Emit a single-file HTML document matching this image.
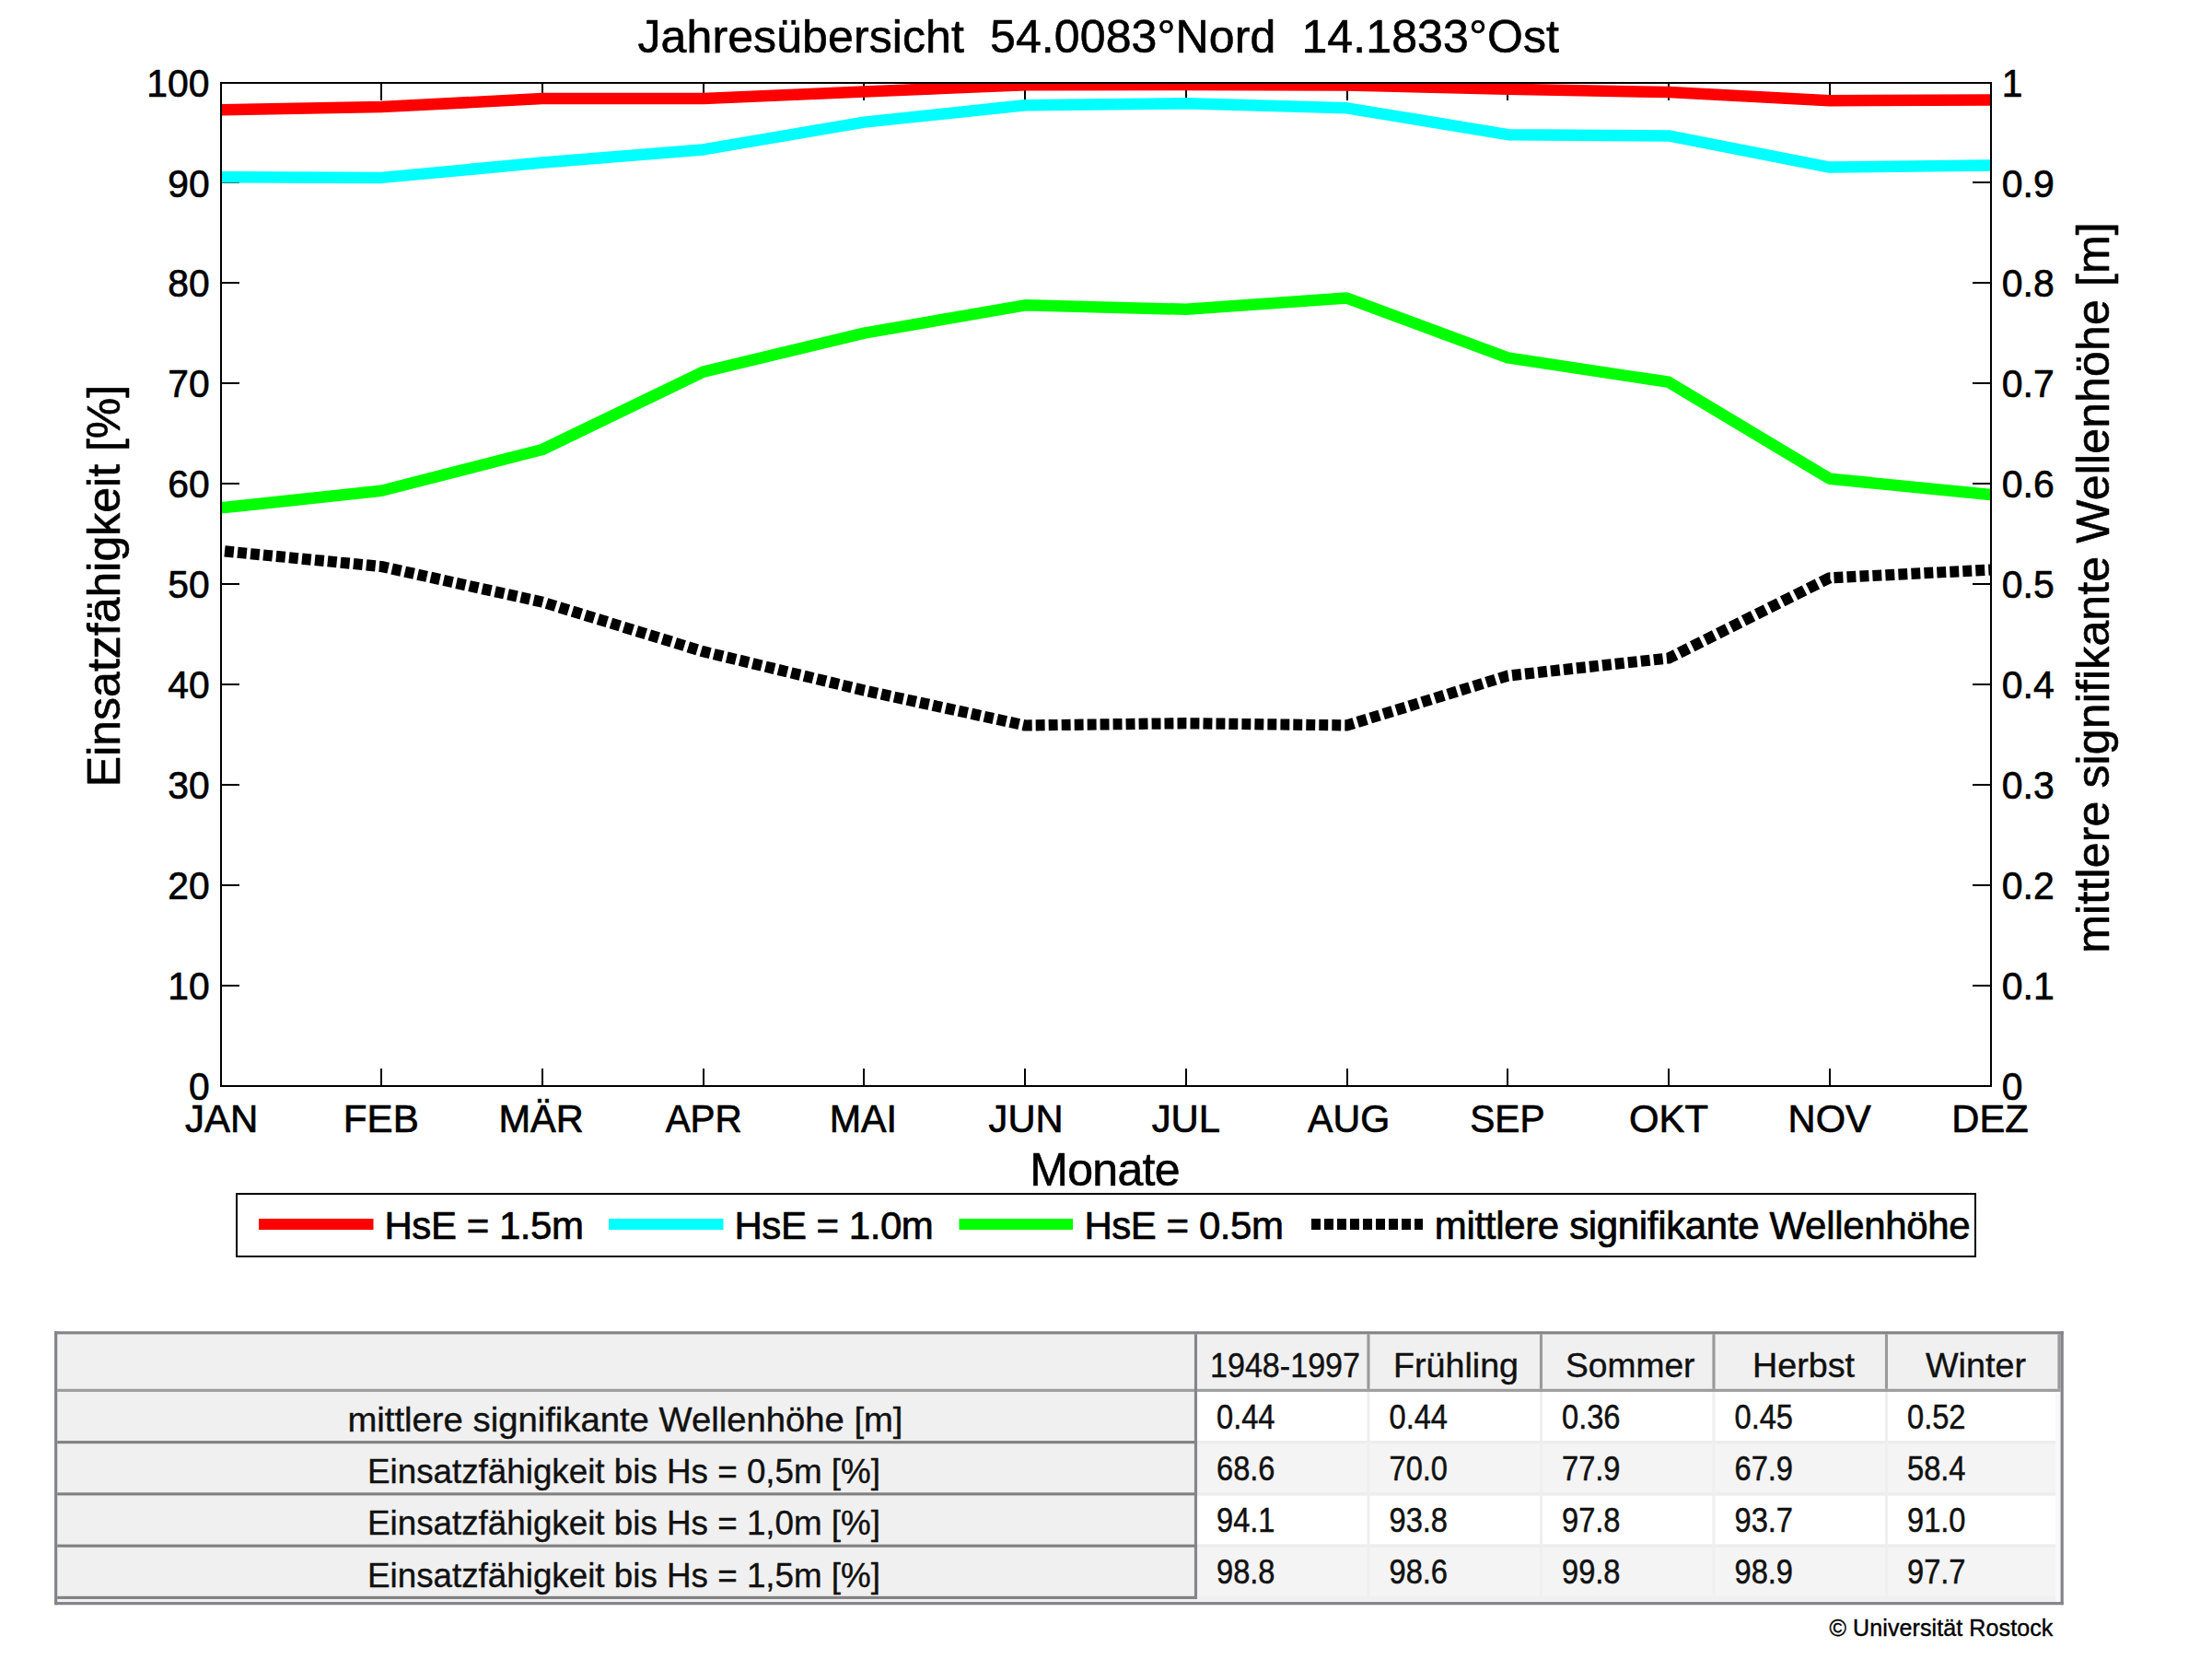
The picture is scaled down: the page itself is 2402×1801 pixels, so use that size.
<!DOCTYPE html>
<html lang="de"><head><meta charset="utf-8"><title>Jahresübersicht 54.0083°Nord 14.1833°Ost</title>
<style>
html,body{margin:0;padding:0;background:#fff;}
body{width:2402px;height:1801px;overflow:hidden;}
svg{display:block;font-family:"Liberation Sans",Arial,sans-serif;fill:#000;}
.t10{font-size:42px;}.tnum{font-size:42.8px;}.tcap{font-size:43.4px;}.t12{font-size:50px;}
.t10,.tnum,.tcap{stroke:#000;stroke-width:0.7px;stroke-linejoin:round;}.t12{stroke:#000;stroke-width:0.6px;stroke-linejoin:round;}
.ax{stroke:#000;stroke-width:2;fill:none;shape-rendering:crispEdges;}
.ln{fill:none;stroke-width:12.5;stroke-linejoin:round;stroke-linecap:butt;}
</style></head><body>
<svg width="2402" height="1801" viewBox="0 0 2402 1801">
<rect x="0" y="0" width="2402" height="1801" fill="#fff"/>
<defs><clipPath id="axclip"><rect x="240" y="90" width="1922" height="1089"/></clipPath></defs>
<!-- title -->
<text class="t12" x="692.5" y="57" textLength="1000.5" xml:space="preserve" style="white-space:pre">Jahresübersicht  54.0083°Nord  14.1833°Ost</text>
<!-- ticks -->
<g class="ax">
<line x1="414" y1="1179" x2="414" y2="1160"/><line x1="414" y1="90" x2="414" y2="109"/>
<line x1="589" y1="1179" x2="589" y2="1160"/><line x1="589" y1="90" x2="589" y2="109"/>
<line x1="764" y1="1179" x2="764" y2="1160"/><line x1="764" y1="90" x2="764" y2="109"/>
<line x1="938" y1="1179" x2="938" y2="1160"/><line x1="938" y1="90" x2="938" y2="109"/>
<line x1="1113" y1="1179" x2="1113" y2="1160"/><line x1="1113" y1="90" x2="1113" y2="109"/>
<line x1="1288" y1="1179" x2="1288" y2="1160"/><line x1="1288" y1="90" x2="1288" y2="109"/>
<line x1="1463" y1="1179" x2="1463" y2="1160"/><line x1="1463" y1="90" x2="1463" y2="109"/>
<line x1="1637" y1="1179" x2="1637" y2="1160"/><line x1="1637" y1="90" x2="1637" y2="109"/>
<line x1="1812" y1="1179" x2="1812" y2="1160"/><line x1="1812" y1="90" x2="1812" y2="109"/>
<line x1="1987" y1="1179" x2="1987" y2="1160"/><line x1="1987" y1="90" x2="1987" y2="109"/>
<line x1="240" y1="198" x2="260" y2="198"/><line x1="2162" y1="198" x2="2142" y2="198"/>
<line x1="240" y1="307" x2="260" y2="307"/><line x1="2162" y1="307" x2="2142" y2="307"/>
<line x1="240" y1="416" x2="260" y2="416"/><line x1="2162" y1="416" x2="2142" y2="416"/>
<line x1="240" y1="525" x2="260" y2="525"/><line x1="2162" y1="525" x2="2142" y2="525"/>
<line x1="240" y1="634" x2="260" y2="634"/><line x1="2162" y1="634" x2="2142" y2="634"/>
<line x1="240" y1="743" x2="260" y2="743"/><line x1="2162" y1="743" x2="2142" y2="743"/>
<line x1="240" y1="852" x2="260" y2="852"/><line x1="2162" y1="852" x2="2142" y2="852"/>
<line x1="240" y1="961" x2="260" y2="961"/><line x1="2162" y1="961" x2="2142" y2="961"/>
<line x1="240" y1="1070" x2="260" y2="1070"/><line x1="2162" y1="1070" x2="2142" y2="1070"/>
</g>
<!-- data lines -->
<g clip-path="url(#axclip)">
<polyline class="ln" stroke="#00ff00" points="239.5,551.4 414.2,532.7 589.0,488.0 763.7,403.6 938.4,361.6 1113.1,331.3 1287.9,335.8 1462.6,323.6 1637.3,388.4 1812.0,414.8 1986.8,519.7 2161.5,537.0"/>
<polyline class="ln" stroke="#00ffff" points="239.5,192.3 414.2,192.9 589.0,176.5 763.7,162.4 938.4,132.6 1113.1,114.2 1287.9,112.3 1462.6,117.3 1637.3,146.2 1812.0,147.4 1986.8,181.6 2161.5,179.5"/>
<polyline class="ln" stroke="#ff0000" points="239.5,119.2 414.2,116.0 589.0,107.1 763.7,106.9 938.4,99.5 1113.1,92.3 1287.9,92.1 1462.6,92.5 1637.3,96.8 1812.0,100.0 1986.8,109.2 2161.5,108.6"/>
<path class="ln" stroke="#000" stroke-linejoin="miter" style="stroke-width:12.2" d="M244.0,598.4 L253.9,599.4 M258.0,599.8 L267.9,600.8 M272.0,601.2 L281.9,602.1 M285.9,602.5 L295.8,603.5 M299.9,603.9 L309.8,604.8 M313.9,605.2 L323.8,606.2 M327.9,606.6 L337.8,607.6 M341.9,608.0 L351.8,608.9 M355.8,609.3 L365.7,610.3 M369.8,610.7 L379.7,611.6 M383.8,612.0 L393.7,613.0 M397.8,613.4 L407.7,614.4 M411.8,614.8 L414.2,615.0 L421.7,616.6 M425.7,617.5 L435.6,619.7 M439.7,620.6 L449.6,622.8 M453.7,623.7 L463.6,625.9 M467.7,626.8 L477.6,629.0 M481.7,629.9 L491.6,632.1 M495.6,633.0 L505.5,635.2 M509.6,636.1 L519.5,638.3 M523.6,639.2 L533.5,641.3 M537.6,642.3 L547.5,644.4 M551.6,645.3 L561.5,647.5 M565.5,648.4 L575.4,650.6 M579.5,651.5 L589.0,653.6 L589.4,653.7 M593.5,655.0 L603.4,658.0 M607.5,659.3 L617.4,662.3 M621.5,663.6 L631.4,666.6 M635.4,667.9 L645.3,670.9 M649.4,672.2 L659.3,675.2 M663.4,676.5 L673.3,679.5 M677.4,680.8 L687.3,683.8 M691.4,685.1 L701.3,688.1 M705.3,689.4 L715.2,692.4 M719.3,693.7 L729.2,696.7 M733.3,698.0 L743.2,701.0 M747.3,702.3 L757.2,705.3 M761.3,706.6 L763.7,707.3 L771.2,709.1 M775.2,710.1 L785.1,712.5 M789.2,713.5 L799.1,715.9 M803.2,716.8 L813.1,719.2 M817.2,720.2 L827.1,722.6 M831.2,723.6 L841.1,726.0 M845.1,727.0 L855.0,729.4 M859.1,730.4 L869.0,732.7 M873.1,733.7 L883.0,736.1 M887.1,737.1 L897.0,739.5 M901.1,740.5 L911.0,742.9 M915.0,743.9 L924.9,746.2 M929.0,747.2 L938.4,749.5 L938.9,749.6 M943.0,750.5 L952.9,752.7 M957.0,753.5 L966.9,755.7 M971.0,756.6 L980.9,758.7 M984.9,759.6 L994.8,761.8 M998.9,762.7 L1008.8,764.8 M1012.9,765.7 L1022.8,767.9 M1026.9,768.7 L1036.8,770.9 M1040.9,771.8 L1050.8,773.9 M1054.8,774.8 L1064.7,777.0 M1068.8,777.9 L1078.7,780.0 M1082.8,780.9 L1092.7,783.1 M1096.8,783.9 L1106.7,786.1 M1110.8,787.0 L1113.1,787.5 L1120.7,787.4 M1124.7,787.3 L1134.6,787.2 M1138.7,787.2 L1148.6,787.0 M1152.7,787.0 L1162.6,786.8 M1166.7,786.8 L1176.6,786.7 M1180.7,786.6 L1190.6,786.5 M1194.6,786.4 L1204.5,786.3 M1208.6,786.2 L1218.5,786.1 M1222.6,786.1 L1232.5,785.9 M1236.6,785.9 L1246.5,785.7 M1250.6,785.7 L1260.5,785.6 M1264.5,785.5 L1274.4,785.4 M1278.5,785.3 L1287.9,785.2 L1288.4,785.2 M1292.5,785.3 L1302.4,785.4 M1306.5,785.4 L1316.4,785.6 M1320.5,785.6 L1330.4,785.7 M1334.4,785.8 L1344.3,785.9 M1348.4,786.0 L1358.3,786.1 M1362.4,786.1 L1372.3,786.3 M1376.4,786.3 L1386.3,786.4 M1390.4,786.5 L1400.3,786.6 M1404.3,786.7 L1414.2,786.8 M1418.3,786.8 L1428.2,787.0 M1432.3,787.0 L1442.2,787.1 M1446.3,787.2 L1456.2,787.3 M1460.3,787.4 L1462.6,787.4 L1470.2,785.1 M1474.2,783.8 L1484.1,780.8 M1488.2,779.5 L1498.1,776.5 M1502.2,775.2 L1512.1,772.2 M1516.2,770.9 L1526.1,767.9 M1530.2,766.6 L1540.1,763.5 M1544.1,762.3 L1554.0,759.2 M1558.1,758.0 L1568.0,754.9 M1572.1,753.7 L1582.0,750.6 M1586.1,749.4 L1596.0,746.3 M1600.1,745.1 L1610.0,742.0 M1614.0,740.8 L1623.9,737.7 M1628.0,736.5 L1637.3,733.6 L1637.9,733.5 M1642.0,733.1 L1651.9,732.0 M1656.0,731.6 L1665.9,730.5 M1670.0,730.0 L1679.9,728.9 M1683.9,728.5 L1693.8,727.4 M1697.9,727.0 L1707.8,725.9 M1711.9,725.4 L1721.8,724.4 M1725.9,723.9 L1735.8,722.8 M1739.9,722.4 L1749.8,721.3 M1753.8,720.9 L1763.7,719.8 M1767.8,719.3 L1777.7,718.3 M1781.8,717.8 L1791.7,716.7 M1795.8,716.3 L1805.7,715.2 M1809.8,714.7 L1812.0,714.5 L1819.7,710.7 M1823.7,708.7 L1833.6,703.7 M1837.7,701.7 L1847.6,696.7 M1851.7,694.7 L1861.6,689.8 M1865.7,687.7 L1875.6,682.8 M1879.7,680.8 L1889.6,675.8 M1893.6,673.8 L1903.5,668.8 M1907.6,666.8 L1917.5,661.9 M1921.6,659.8 L1931.5,654.9 M1935.6,652.8 L1945.5,647.9 M1949.6,645.9 L1959.5,640.9 M1963.5,638.9 L1973.4,634.0 M1977.5,631.9 L1986.8,627.3 L1987.4,627.3 M1991.5,627.1 L2001.4,626.6 M2005.5,626.4 L2015.4,625.9 M2019.5,625.7 L2029.4,625.2 M2033.4,625.0 L2043.3,624.5 M2047.4,624.3 L2057.3,623.8 M2061.4,623.6 L2071.3,623.1 M2075.4,622.9 L2085.3,622.4 M2089.4,622.2 L2099.3,621.7 M2103.3,621.5 L2113.2,621.0 M2117.3,620.8 L2127.2,620.3 M2131.3,620.1 L2141.2,619.6 M2145.3,619.4 L2155.2,618.9 M2159.3,618.7 L2161.5,618.6 L2163.0,618.6"/>
</g>
<rect class="ax" x="240" y="90" width="1922" height="1089"/>
<!-- left tick labels -->
<g class="tnum" text-anchor="end">
<text x="227.6" y="1193.6" textLength="22.7" lengthAdjust="spacingAndGlyphs">0</text>
<text x="227.6" y="1084.7" textLength="45.4" lengthAdjust="spacingAndGlyphs">10</text>
<text x="227.6" y="975.8" textLength="45.4" lengthAdjust="spacingAndGlyphs">20</text>
<text x="227.6" y="866.9" textLength="45.4" lengthAdjust="spacingAndGlyphs">30</text>
<text x="227.6" y="758.0" textLength="45.4" lengthAdjust="spacingAndGlyphs">40</text>
<text x="227.6" y="649.1" textLength="45.4" lengthAdjust="spacingAndGlyphs">50</text>
<text x="227.6" y="540.2" textLength="45.4" lengthAdjust="spacingAndGlyphs">60</text>
<text x="227.6" y="431.3" textLength="45.4" lengthAdjust="spacingAndGlyphs">70</text>
<text x="227.6" y="322.4" textLength="45.4" lengthAdjust="spacingAndGlyphs">80</text>
<text x="227.6" y="213.5" textLength="45.4" lengthAdjust="spacingAndGlyphs">90</text>
<text x="227.6" y="104.6" textLength="68.3" lengthAdjust="spacingAndGlyphs">100</text>
</g>
<!-- right tick labels -->
<g class="tnum">
<text x="2173.8" y="1193.6" textLength="22.7" lengthAdjust="spacingAndGlyphs">0</text>
<text x="2173.8" y="1084.7" textLength="57" lengthAdjust="spacingAndGlyphs">0.1</text>
<text x="2173.8" y="975.8" textLength="57" lengthAdjust="spacingAndGlyphs">0.2</text>
<text x="2173.8" y="866.9" textLength="57" lengthAdjust="spacingAndGlyphs">0.3</text>
<text x="2173.8" y="758.0" textLength="57" lengthAdjust="spacingAndGlyphs">0.4</text>
<text x="2173.8" y="649.1" textLength="57" lengthAdjust="spacingAndGlyphs">0.5</text>
<text x="2173.8" y="540.2" textLength="57" lengthAdjust="spacingAndGlyphs">0.6</text>
<text x="2173.8" y="431.3" textLength="57" lengthAdjust="spacingAndGlyphs">0.7</text>
<text x="2173.8" y="322.4" textLength="57" lengthAdjust="spacingAndGlyphs">0.8</text>
<text x="2173.8" y="213.5" textLength="57" lengthAdjust="spacingAndGlyphs">0.9</text>
<text x="2173.8" y="104.6" textLength="22.7" lengthAdjust="spacingAndGlyphs">1</text>
</g>
<!-- month labels -->
<g class="tcap" text-anchor="middle">
<text x="240.7" y="1229.3" textLength="79.3" lengthAdjust="spacingAndGlyphs">JAN</text>
<text x="413.8" y="1229.3" textLength="81.9" lengthAdjust="spacingAndGlyphs">FEB</text>
<text x="587.6" y="1229.3" textLength="92.4" lengthAdjust="spacingAndGlyphs">MÄR</text>
<text x="764.2" y="1229.3" textLength="83.1" lengthAdjust="spacingAndGlyphs">APR</text>
<text x="937.4" y="1229.3" textLength="73.3" lengthAdjust="spacingAndGlyphs">MAI</text>
<text x="1114.1" y="1229.3" textLength="81" lengthAdjust="spacingAndGlyphs">JUN</text>
<text x="1287.9" y="1229.3" textLength="74.4" lengthAdjust="spacingAndGlyphs">JUL</text>
<text x="1464.7" y="1229.3" textLength="89.2" lengthAdjust="spacingAndGlyphs">AUG</text>
<text x="1636.9" y="1229.3" textLength="81.3" lengthAdjust="spacingAndGlyphs">SEP</text>
<text x="1812.0" y="1229.3" textLength="85.9" lengthAdjust="spacingAndGlyphs">OKT</text>
<text x="1986.7" y="1229.3" textLength="90.2" lengthAdjust="spacingAndGlyphs">NOV</text>
<text x="2161.0" y="1229.3" textLength="83.4" lengthAdjust="spacingAndGlyphs">DEZ</text>
</g>
<text class="t12" x="1118.3" y="1286.5" textLength="163.3">Monate</text>
<text class="t12" text-anchor="middle" transform="translate(129.6 636) rotate(-90)">Einsatzfähigkeit [%]</text>
<text class="t12" text-anchor="middle" textLength="793.4" transform="translate(2289.9 638) rotate(-90)">mittlere signifikante Wellenhöhe [m]</text>
<!-- legend -->
<rect class="ax" x="257" y="1296" width="1888" height="68" fill="#fff"/>
<g class="ln" style="stroke-width:12">
<line x1="281" y1="1329" x2="405.5" y2="1329" stroke="#ff0000"/>
<line x1="661" y1="1329" x2="785.5" y2="1329" stroke="#00ffff"/>
<line x1="1041.5" y1="1329" x2="1165" y2="1329" stroke="#00ff00"/>
<line x1="1424" y1="1329" x2="1545" y2="1329" stroke="#000" stroke-dasharray="10 4"/>
</g>
<g class="t10">
<text x="417.5" y="1344.6" textLength="216.4">HsE = 1.5m</text>
<text x="797.5" y="1344.6" textLength="216.3">HsE = 1.0m</text>
<text x="1177.4" y="1344.6" textLength="216.5">HsE = 0.5m</text>
<text x="1557.8" y="1344.6" textLength="581.8">mittlere signifikante Wellenhöhe</text>
</g>
<!-- table -->
<g>
<rect x="59.1" y="1445.3" width="2181.6" height="296.9" fill="#f0f0f0"/>
<rect x="1300" y="1510.9" width="932" height="53.2" fill="#ffffff"/>
<rect x="1300" y="1567.2" width="932" height="53.1" fill="#f4f4f4"/>
<rect x="1300" y="1623.4" width="932" height="53.2" fill="#ffffff"/>
<rect x="1300" y="1679.7" width="932" height="53.1" fill="#f4f4f4"/>
<rect x="1300" y="1564.1" width="932" height="3.125" fill="#ededed"/>
<rect x="1300" y="1620.3" width="932" height="3.125" fill="#ededed"/>
<rect x="1300" y="1676.6" width="932" height="3.125" fill="#ededed"/>
<rect x="1484.4" y="1510.9" width="3.125" height="221.9" fill="#efefef"/>
<rect x="1671.9" y="1510.9" width="3.125" height="221.9" fill="#efefef"/>
<rect x="1859.4" y="1510.9" width="3.125" height="221.9" fill="#efefef"/>
<rect x="2046.9" y="1510.9" width="3.125" height="221.9" fill="#efefef"/>
<rect x="2232" y="1510.9" width="5.5" height="228.2" fill="#f8f8fb"/>
<rect x="1484.4" y="1448.4" width="3.125" height="59.4" fill="#9a9a9a"/>
<rect x="1671.9" y="1448.4" width="3.125" height="59.4" fill="#9a9a9a"/>
<rect x="1859.4" y="1448.4" width="3.125" height="59.4" fill="#9a9a9a"/>
<rect x="2046.9" y="1448.4" width="3.125" height="59.4" fill="#9a9a9a"/>
<rect x="2234.4" y="1448.4" width="3.125" height="59.4" fill="#9a9a9a"/>
<rect x="62.2" y="1507.8" width="2175.3" height="3.125" fill="#9d9d9d"/>
<rect x="62.2" y="1564.1" width="1237.8" height="3.125" fill="#808080"/>
<rect x="62.2" y="1620.3" width="1237.8" height="3.125" fill="#808080"/>
<rect x="62.2" y="1676.6" width="1237.8" height="3.125" fill="#808080"/>
<rect x="62.2" y="1732.8" width="1237.8" height="3.125" fill="#808080"/>
<rect x="1296.9" y="1448.4" width="3.125" height="287.5" fill="#85868b"/>
<rect x="59.1" y="1445.3" width="2181.6" height="3.125" fill="#828389"/>
<rect x="59.1" y="1739.1" width="2181.6" height="3.125" fill="#828389"/>
<rect x="59.1" y="1445.3" width="3.125" height="296.9" fill="#828389"/>
<rect x="2237.6" y="1445.3" width="3.125" height="296.9" fill="#828389"/>
</g>
<g font-size="37.5" fill="#111" stroke="#111" stroke-width="0.4">
<text x="1314" y="1494.6" textLength="163" lengthAdjust="spacingAndGlyphs">1948-1997</text>
<text x="1513" y="1494.6" textLength="136" lengthAdjust="spacingAndGlyphs">Frühling</text>
<text x="1700" y="1494.6" textLength="140.5" lengthAdjust="spacingAndGlyphs">Sommer</text>
<text x="1903" y="1494.6" textLength="111" lengthAdjust="spacingAndGlyphs">Herbst</text>
<text x="2091" y="1494.6" textLength="109" lengthAdjust="spacingAndGlyphs">Winter</text>
<text x="377.5" y="1553.7" textLength="603" lengthAdjust="spacingAndGlyphs">mittlere signifikante Wellenhöhe [m]</text>
<text x="399" y="1610" textLength="557" lengthAdjust="spacingAndGlyphs">Einsatzfähigkeit bis Hs = 0,5m [%]</text>
<text x="399" y="1666.2" textLength="557" lengthAdjust="spacingAndGlyphs">Einsatzfähigkeit bis Hs = 1,0m [%]</text>
<text x="399" y="1722.5" textLength="557" lengthAdjust="spacingAndGlyphs">Einsatzfähigkeit bis Hs = 1,5m [%]</text>
</g>
<g font-size="36" fill="#111" stroke="#111" stroke-width="0.5">
<text x="1321.0" y="1550.6" textLength="63.5" lengthAdjust="spacingAndGlyphs">0.44</text>
<text x="1508.5" y="1550.6" textLength="63.5" lengthAdjust="spacingAndGlyphs">0.44</text>
<text x="1696.0" y="1550.6" textLength="63.5" lengthAdjust="spacingAndGlyphs">0.36</text>
<text x="1883.5" y="1550.6" textLength="63.5" lengthAdjust="spacingAndGlyphs">0.45</text>
<text x="2071.0" y="1550.6" textLength="63.5" lengthAdjust="spacingAndGlyphs">0.52</text>
<text x="1321.0" y="1606.8" textLength="63.5" lengthAdjust="spacingAndGlyphs">68.6</text>
<text x="1508.5" y="1606.8" textLength="63.5" lengthAdjust="spacingAndGlyphs">70.0</text>
<text x="1696.0" y="1606.8" textLength="63.5" lengthAdjust="spacingAndGlyphs">77.9</text>
<text x="1883.5" y="1606.8" textLength="63.5" lengthAdjust="spacingAndGlyphs">67.9</text>
<text x="2071.0" y="1606.8" textLength="63.5" lengthAdjust="spacingAndGlyphs">58.4</text>
<text x="1321.0" y="1663.1" textLength="63.5" lengthAdjust="spacingAndGlyphs">94.1</text>
<text x="1508.5" y="1663.1" textLength="63.5" lengthAdjust="spacingAndGlyphs">93.8</text>
<text x="1696.0" y="1663.1" textLength="63.5" lengthAdjust="spacingAndGlyphs">97.8</text>
<text x="1883.5" y="1663.1" textLength="63.5" lengthAdjust="spacingAndGlyphs">93.7</text>
<text x="2071.0" y="1663.1" textLength="63.5" lengthAdjust="spacingAndGlyphs">91.0</text>
<text x="1321.0" y="1719.3" textLength="63.5" lengthAdjust="spacingAndGlyphs">98.8</text>
<text x="1508.5" y="1719.3" textLength="63.5" lengthAdjust="spacingAndGlyphs">98.6</text>
<text x="1696.0" y="1719.3" textLength="63.5" lengthAdjust="spacingAndGlyphs">99.8</text>
<text x="1883.5" y="1719.3" textLength="63.5" lengthAdjust="spacingAndGlyphs">98.9</text>
<text x="2071.0" y="1719.3" textLength="63.5" lengthAdjust="spacingAndGlyphs">97.7</text>
</g>
<text x="2229.3" y="1775.8" text-anchor="end" font-size="25" stroke="#000" stroke-width="0.4" textLength="242.8">© Universität Rostock</text>
</svg>
</body></html>
